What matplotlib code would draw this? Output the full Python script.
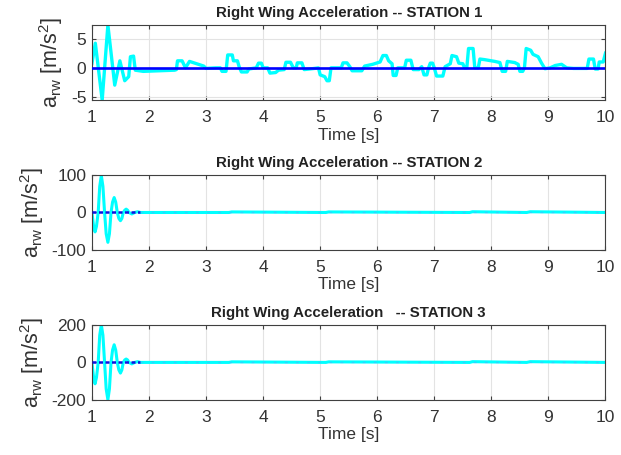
import numpy as np
import matplotlib
matplotlib.use("Agg")
import matplotlib.pyplot as plt
from matplotlib.ticker import FuncFormatter

plt.rcParams['font.family'] = ['Liberation Sans', 'DejaVu Sans']
plt.rcParams['mathtext.fontset'] = 'custom'
plt.rcParams['mathtext.rm'] = 'Liberation Sans'

# station 1 (cyan trace)
t1 = [1.00, 1.06, 1.18, 1.28, 1.40, 1.49, 1.575, 1.645, 1.675, 1.73, 1.76, 1.90,
      2.45, 2.48, 2.50, 2.58, 2.64, 2.71, 2.87, 2.96, 3.00, 3.17, 3.25, 3.28, 3.35,
      3.38, 3.46, 3.48, 3.55, 3.58, 3.62, 3.72, 3.75, 3.88, 3.92, 3.97, 4.00, 4.08,
      4.12, 4.22, 4.27, 4.37, 4.40, 4.48, 4.53, 4.58, 4.60, 4.68, 4.72, 4.90, 4.97,
      5.00, 5.08, 5.12, 5.16, 5.19, 5.37, 5.40, 5.47, 5.52, 5.56, 5.73, 5.78, 5.92,
      6.05, 6.10, 6.16, 6.20, 6.26, 6.28, 6.33, 6.36, 6.48, 6.51, 6.59, 6.63, 6.73,
      6.78, 6.82, 6.87, 6.90, 6.93, 6.97, 7.00, 7.04, 7.15, 7.19, 7.28, 7.31, 7.39,
      7.43, 7.50, 7.53, 7.57, 7.60, 7.68, 7.71, 7.77, 7.80, 7.88, 8.06, 8.15, 8.19,
      8.25, 8.28, 8.41, 8.47, 8.50, 8.55, 8.58, 8.61, 8.69, 8.73, 8.82, 8.88, 8.94,
      9.03, 9.12, 9.23, 9.32, 9.44, 9.68, 9.71, 9.79, 9.82, 9.87, 9.89, 9.96, 10.0]
a1 = [0.75, 4.2, -5.5, 7.3, -2.95, 1.2, -2.2, -1.5, 1.9, 2.0, -0.4, -0.6,
      -0.4, -0.3, 1.2, 1.2, 0.0, 1.1, 0.6, 0.3, -0.1, 0.0, 0.0, -0.6, -0.6,
      2.2, 2.2, 1.2, 1.2, 0.2, -0.7, -0.7, -0.2, 0.0, 0.8, 0.8, 0.0, 0.0,
      -0.9, -0.8, -0.4, -0.3, 0.95, 0.95, 0.0, 0.0, 0.85, 0.85, -0.3, -0.1, 0.0,
      -1.2, -1.5, -2.2, -2.2, 0.0, 0.0, 0.85, 0.85, 0.2, -0.5, -0.5, 0.3, 0.6,
      1.0, 2.1, 2.1, 1.2, 0.7, -1.3, -1.3, 0.0, 0.0, 1.3, 1.3, -0.3, -0.3,
      0.2, -1.2, -1.2, 0.0, 0.8, 0.8, 0.0, -1.4, -1.4, 0.2, 0.7, 2.1, 1.9,
      0.8, 0.7, 0.0, 0.0, 3.3, 3.3, 0.0, 0.0, 1.5, 1.4, 1.1, 0.9, -0.6,
      -0.6, 1.1, 0.9, 0.6, -0.6, -0.6, 0.0, 3.3, 3.0, 2.3, 1.9, 0.8, -0.15,
      0.0, 0.4, 0.6, 0.0, -0.1, -0.1, 1.5, 1.5, -0.2, -0.2, 1.0, 1.0, 2.5]

# stations 2 and 3 (damped start, then almost flat)
t23 = [1.00, 1.03, 1.055, 1.08, 1.11, 1.137, 1.165, 1.193, 1.222, 1.25, 1.28,
       1.307, 1.335, 1.362, 1.39, 1.417, 1.445, 1.472, 1.50, 1.525, 1.55, 1.575,
       1.60, 1.625, 1.65, 1.70, 1.75, 1.80, 1.85, 3.40, 3.45, 5.10, 5.15, 7.62,
       7.67, 8.62, 8.68, 10.0]
a2 = [0, -37, -52, -37, 0, 70, 99, 70, 0, -57, -80, -57, 0, 28, 40, 28, 0,
      -16, -22, -16, 0, 6, 9, 6, 0, -4, 0, 2, 0, 0, 1.5, 0, 1.5, 0, 2, 0, 2, 0]
a3 = [0, -80, -114, -80, 0, 145, 200, 145, 0, -141, -199, -141, 0, 66, 94, 66,
      0, -40, -57, -40, 0, 13, 18, 13, 0, -8, 0, 4, 0, 0, 3, 0, 3, 0, 4, 0, 4, 0]

titles = ['Right Wing Acceleration -- STATION 1',
          'Right Wing Acceleration -- STATION 2',
          'Right Wing Acceleration   -- STATION 3']
ylims = [(-5.5, 7.3), (-100, 100), (-200, 200)]
yticks = [[-5, 0, 5], [-100, 0, 100], [-200, 0, 200]]
xticks = list(range(1, 11))

fig = plt.figure(figsize=(6.21, 4.55), dpi=100)
boxes = [[0.148, 0.780, 0.827, 0.165],
         [0.148, 0.451, 0.827, 0.164],
         [0.148, 0.121, 0.827, 0.165]]
series = [(t1, a1), (t23, a2), (t23, a3)]
txt = '#333333'

for i, (box, (t, a)) in enumerate(zip(boxes, series)):
    ax = fig.add_axes(box)
    if i == 0:
        ax.plot(t, a, color='#00ffff', lw=2.4, zorder=2)
        ax.plot([1, 10], [0, 0], color='#0000ff', lw=1.9, zorder=3)
    else:
        ax.plot(t, a, color='#00ffff', lw=2.2, zorder=2)
        ax.plot([1, 1.85], [0, 0], color='#1010e0', lw=1.8, ls=(0, (1.6, 1.0)), zorder=3)
        ax.plot([1.85, 10], [0, 0], color='#8080ff', lw=1.0, ls=(0, (2, 6)), alpha=0.35, zorder=3)
    ax.set_xlim(1, 10)
    ax.set_ylim(*ylims[i])
    ax.set_xticks(xticks)
    ax.set_yticks(yticks[i])
    ax.yaxis.set_major_formatter(FuncFormatter(lambda v, p: '%g' % v))
    ax.grid(True, color='#e3e3e3', lw=0.8)
    ax.set_axisbelow(True)
    ax.tick_params(direction='in', length=3, width=0.8, top=True, right=True,
                   labelsize=12.5, colors='#404040', labelcolor=txt)
    ax.tick_params(axis='x', pad=7)
    ax.tick_params(axis='y', pad=4)
    for s in ax.spines.values():
        s.set_color('#404040')
        s.set_linewidth(0.8)
    ax.set_title(titles[i], fontsize=10.8, fontweight='bold', color='#222222', pad=6)
    ax.set_xlabel('Time [s]', fontsize=12.5, color=txt, labelpad=2)
    ax.set_ylabel(r'a$_\mathregular{rw}$ [m/s$^\mathregular{2}$]', fontsize=15.5,
                  color=txt, labelpad=4)

fig.savefig('out.png', dpi=100)
